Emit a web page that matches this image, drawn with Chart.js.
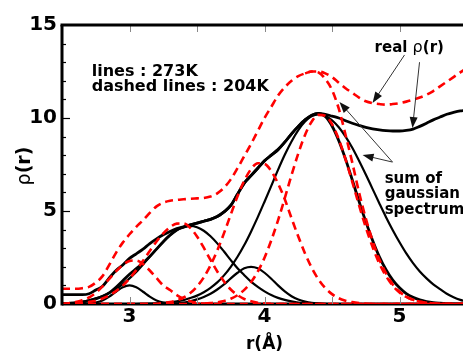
<!DOCTYPE html>
<html>
<head>
<meta charset="utf-8">
<script src="https://cdn.jsdelivr.net/npm/chart.js@4.4.1/dist/chart.umd.min.js"></script>
<style>
  html, body { margin: 0; padding: 0; background: #fff; }
</style>
</head>
<body>
<canvas id="rho" width="463" height="351"></canvas>
<script>
// r grid (Å), 2.50 .. 5.50 in 0.05 steps
const rGrid = [
  2.5, 2.55, 2.6, 2.65, 2.7, 2.75, 2.8, 2.85, 2.9, 2.95,
  3.0, 3.05, 3.1, 3.15, 3.2, 3.25, 3.3, 3.35, 3.4, 3.45,
  3.5, 3.55, 3.6, 3.65, 3.7, 3.75, 3.8, 3.85, 3.9, 3.95,
  4.0, 4.05, 4.1, 4.15, 4.2, 4.25, 4.3, 4.35, 4.4, 4.45,
  4.5, 4.55, 4.6, 4.65, 4.7, 4.75, 4.8, 4.85, 4.9, 4.95,
  5.0, 5.05, 5.1, 5.15, 5.2, 5.25, 5.3, 5.35, 5.4, 5.45,
  5.5
];

// 273K (solid black)
const real273 = [
  0.5, 0.5, 0.5, 0.5, 0.55, 0.75, 0.95, 1.4, 1.8, 2.1,
  2.45, 2.7, 2.95, 3.25, 3.5, 3.72, 3.9, 4.05, 4.15, 4.25,
  4.35, 4.45, 4.55, 4.7, 4.95, 5.3, 5.9, 6.5, 6.9, 7.3,
  7.7, 8.0, 8.3, 8.7, 9.15, 9.55, 9.9, 10.15, 10.25, 10.2,
  10.1, 10.0, 9.85, 9.72, 9.6, 9.5, 9.42, 9.36, 9.32, 9.3,
  9.3, 9.33, 9.4, 9.55, 9.72, 9.9, 10.05, 10.2, 10.3, 10.38,
  10.42
];
const sum273 = [
  0, 0.03, 0.06, 0.1, 0.18, 0.28, 0.4, 0.6, 0.9, 1.25,
  1.6, 1.9, 2.2, 2.55, 2.95, 3.35, 3.7, 3.98, 4.13, 4.25,
  4.35, 4.45, 4.55, 4.7, 4.95, 5.3, 5.9, 6.5, 6.9, 7.3,
  7.7, 8.0, 8.3, 8.7, 9.15, 9.55, 9.9, 10.15, 10.25, 10.08,
  9.57, 8.78, 7.79, 6.67, 5.52, 4.43, 3.43, 2.55, 1.84, 1.28,
  0.87, 0.56, 0.36, 0.22, 0.13, 0.07, 0.04, 0.02, 0.01, 0,
  0
];
const g273A = [
  0, 0, 0, 0.01, 0.02, 0.08, 0.19, 0.4, 0.66, 0.9,
  1.0, 0.9, 0.66, 0.4, 0.19, 0.08, 0.02, 0.01, 0, 0,
  0, 0, 0, 0, 0, 0, 0, 0, 0, 0,
  0, 0, 0, 0, 0, 0, 0, 0, 0, 0,
  0, 0, 0, 0, 0, 0, 0, 0, 0, 0,
  0, 0, 0, 0, 0, 0, 0, 0, 0, 0,
  0
];
const g273B = [
  0.03, 0.05, 0.08, 0.13, 0.2, 0.3, 0.43, 0.6, 0.8, 1.07,
  1.38, 1.72, 2.12, 2.55, 2.95, 3.35, 3.7, 3.97, 4.14, 4.2,
  4.13, 3.94, 3.64, 3.26, 2.82, 2.36, 1.92, 1.55, 1.2, 0.92,
  0.68, 0.48, 0.33, 0.22, 0.14, 0.08, 0.05, 0.03, 0.01, 0,
  0, 0, 0, 0, 0, 0, 0, 0, 0, 0,
  0, 0, 0, 0, 0, 0, 0, 0, 0, 0,
  0
];
const g273C = [
  0, 0, 0, 0, 0, 0, 0, 0, 0, 0,
  0, 0, 0, 0, 0, 0, 0, 0.04, 0.08, 0.15,
  0.25, 0.38, 0.55, 0.78, 1.05, 1.38, 1.68, 1.92, 2.0, 1.92,
  1.68, 1.36, 1.0, 0.68, 0.42, 0.24, 0.13, 0.06, 0.03, 0.01,
  0, 0, 0, 0, 0, 0, 0, 0, 0, 0,
  0, 0, 0, 0, 0, 0, 0, 0, 0, 0,
  0
];
const g273D = [
  0, 0, 0, 0, 0, 0, 0, 0, 0, 0,
  0, 0, 0.01, 0.02, 0.04, 0.06, 0.09, 0.14, 0.21, 0.32,
  0.45, 0.63, 0.87, 1.16, 1.54, 2.0, 2.54, 3.17, 3.89, 4.67,
  5.5, 6.35, 7.21, 8.02, 8.74, 9.35, 9.81, 10.1, 10.2, 10.12,
  9.88, 9.5, 9.0, 8.4, 7.7, 6.96, 6.19, 5.42, 4.67, 3.97,
  3.32, 2.72, 2.2, 1.75, 1.38, 1.06, 0.8, 0.55, 0.36, 0.22,
  0.13
];

// 204K (dashed red)
const real204 = [
  0.82, 0.82, 0.82, 0.85, 0.92, 1.15, 1.5, 2.1, 2.75, 3.3,
  3.75, 4.15, 4.5, 4.9, 5.25, 5.45, 5.55, 5.6, 5.63, 5.66,
  5.68, 5.7, 5.78, 5.95, 6.25, 6.7, 7.3, 7.95, 8.6, 9.3,
  10.0, 10.6, 11.2, 11.65, 12.0, 12.25, 12.4, 12.5, 12.5, 12.4,
  12.2, 11.9, 11.6, 11.35, 11.1, 10.9, 10.8, 10.75, 10.72, 10.75,
  10.8, 10.88, 10.98, 11.1, 11.25, 11.45, 11.7, 11.95, 12.2, 12.45,
  12.7
];
// below 4.3 the fitted sum runs on top of the measured curve
const sum204 = [
  null, null, null, null, null, null, null, null, null, null,
  null, null, null, null, null, null, null, null, null, null,
  null, null, null, null, null, null, null, null, null, null,
  null, null, null, null, null, null, 12.4, 12.5, 12.45, 12.1,
  11.5, 10.5, 9.1, 7.6, 6.0, 4.6, 3.4, 2.4, 1.65, 1.05,
  0.66, 0.4, 0.23, 0.12, 0.07, 0.03, 0.01, 0, 0, 0,
  0
];
const g204A = [
  0, 0.04, 0.1, 0.2, 0.35, 0.6, 0.95, 1.35, 1.75, 2.1,
  2.31, 2.34, 2.15, 1.8, 1.4, 1.0, 0.75, 0.48, 0.28, 0.15,
  0.07, 0.02, 0, 0, 0, 0, 0, 0, 0, 0,
  0, 0, 0, 0, 0, 0, 0, 0, 0, 0,
  0, 0, 0, 0, 0, 0, 0, 0, 0, 0,
  0, 0, 0, 0, 0, 0, 0, 0, 0, 0,
  0
];
const g204B = [
  0, 0.01, 0.03, 0.06, 0.11, 0.18, 0.3, 0.46, 0.69, 0.99,
  1.37, 1.82, 2.32, 2.85, 3.36, 3.8, 4.13, 4.32, 4.33, 4.09,
  3.63, 3.03, 2.37, 1.75, 1.21, 0.78, 0.48, 0.27, 0.15, 0.07,
  0.03, 0.01, 0, 0, 0, 0, 0, 0, 0, 0,
  0, 0, 0, 0, 0, 0, 0, 0, 0, 0,
  0, 0, 0, 0, 0, 0, 0, 0, 0, 0,
  0
];
const g204C = [
  0, 0, 0, 0, 0, 0, 0, 0, 0, 0,
  0, 0, 0, 0, 0, 0.06, 0.1, 0.2, 0.35, 0.59,
  0.94, 1.43, 2.08, 2.88, 3.81, 4.81, 5.79, 6.63, 7.25, 7.57,
  7.53, 7.15, 6.48, 5.63, 4.61, 3.63, 2.72, 1.94, 1.32, 0.86,
  0.53, 0.31, 0.18, 0.1, 0.05, 0.02, 0, 0, 0, 0,
  0, 0, 0, 0, 0, 0, 0, 0, 0, 0,
  0
];
const g204D = [
  0, 0, 0, 0, 0, 0, 0, 0, 0, 0,
  0, 0, 0, 0, 0, 0, 0, 0, 0, 0,
  0, 0.02, 0.05, 0.09, 0.16, 0.28, 0.47, 0.76, 1.17, 1.74,
  2.49, 3.42, 4.5, 5.69, 6.93, 8.09, 9.09, 9.81, 10.17, 10.12,
  9.67, 8.86, 7.78, 6.57, 5.31, 4.12, 3.07, 2.18, 1.5, 0.98,
  0.62, 0.38, 0.22, 0.12, 0.07, 0.03, 0.01, 0, 0, 0,
  0
];

// axis ticks
const xTickMarks = [3, 3.5, 4, 4.5, 5];
const yTickMarks = [1, 2, 3, 4, 5, 6, 7, 8, 9, 10, 11, 12, 13, 14];

const FONT = '"DejaVu Sans", "Liberation Sans", Arial, sans-serif';

const pts = ys => rGrid.map((r, i) => ({ x: r, y: ys[i] }));

const solid = (data, width) => ({
  data: pts(data), borderColor: '#000', borderWidth: width,
  pointRadius: 0, cubicInterpolationMode: 'monotone', order: 1
});
const dashed = data => ({
  data: pts(data), borderColor: '#ff0000', borderWidth: 2.6, borderDash: [8, 5],
  pointRadius: 0, cubicInterpolationMode: 'monotone', order: 0, spanGaps: false
});

function seg(ctx, x1, y1, x2, y2) {
  ctx.beginPath();
  ctx.moveTo(x1, y1);
  ctx.lineTo(x2, y2);
  ctx.stroke();
}

function arrow(ctx, x1, y1, x2, y2) {
  const ang = Math.atan2(y2 - y1, x2 - x1);
  const len = 11, half = 4;
  seg(ctx, x1, y1, x2 - Math.cos(ang) * len * 0.8, y2 - Math.sin(ang) * len * 0.8);
  ctx.beginPath();
  ctx.moveTo(x2, y2);
  ctx.lineTo(x2 - Math.cos(ang) * len - Math.sin(ang) * half, y2 - Math.sin(ang) * len + Math.cos(ang) * half);
  ctx.lineTo(x2 - Math.cos(ang) * len + Math.sin(ang) * half, y2 - Math.sin(ang) * len - Math.cos(ang) * half);
  ctx.closePath();
  ctx.fill();
}

// text made of pieces with different fonts (rho is set upright, not bold)
function runs(ctx, x, y, parts) {
  parts.forEach(([txt, font]) => {
    ctx.font = font;
    ctx.fillText(txt, x, y);
    x += ctx.measureText(txt).width;
  });
}
function runsWidth(ctx, parts) {
  return parts.reduce((w, [txt, font]) => { ctx.font = font; return w + ctx.measureText(txt).width; }, 0);
}

const baseline = {
  id: 'baseline',
  beforeDatasetsDraw(chart) {
    const { ctx, chartArea: a } = chart;
    ctx.save();
    ctx.strokeStyle = '#000';
    ctx.lineWidth = 3;
    seg(ctx, a.left, a.bottom, a.right, a.bottom);
    ctx.restore();
  }
};

const frame = {
  id: 'frame',
  afterDatasetsDraw(chart) {
    const { ctx, chartArea: a, scales: { x, y } } = chart;
    ctx.save();

    // inward tick marks
    ctx.lineWidth = 1;
    ctx.strokeStyle = '#888';
    xTickMarks.forEach(v => {
      const px = Math.round(x.getPixelForValue(v)) + 0.5;
      seg(ctx, px, a.top, px, a.top + 7);
      seg(ctx, px, a.bottom, px, a.bottom - 7);
    });
    ctx.strokeStyle = '#000';
    ctx.lineWidth = 1.2;
    yTickMarks.forEach(v => {
      const py = Math.round(y.getPixelForValue(v)) + 0.5;
      seg(ctx, a.left, py, a.left + (v % 5 === 0 ? 8 : 4), py);
    });

    // frame
    ctx.lineWidth = 3;
    ctx.strokeStyle = '#000';
    seg(ctx, a.left, a.top, a.left, a.bottom + 1.5);
    seg(ctx, a.left - 1.5, a.top, a.right, a.top);

    // notes
    ctx.fillStyle = '#000';
    ctx.textBaseline = 'alphabetic';
    ctx.textAlign = 'left';
    const B16 = 'bold 16px ' + FONT;
    const B15 = 'bold 15px ' + FONT;
    ctx.font = B16;
    ctx.fillText('lines : 273K', x.getPixelForValue(2.72), y.getPixelForValue(12.26));
    ctx.fillText('dashed lines : 204K', x.getPixelForValue(2.72), y.getPixelForValue(11.45));
    runs(ctx, x.getPixelForValue(4.815), y.getPixelForValue(13.55),
      [['real ', B15], ['\u03c1', '16px ' + FONT], ['(r)', B15]]);
    ctx.font = B15;
    ctx.fillText('sum of', x.getPixelForValue(4.89), y.getPixelForValue(6.5));
    ctx.fillText('gaussian', x.getPixelForValue(4.89), y.getPixelForValue(5.7));
    ctx.fillText('spectrum', x.getPixelForValue(4.89), y.getPixelForValue(4.84));

    // pointers
    ctx.strokeStyle = '#333';
    ctx.fillStyle = '#111';
    ctx.lineWidth = 1;
    const P = (r, v) => [x.getPixelForValue(r), y.getPixelForValue(v)];
    arrow(ctx, ...P(5.037, 13.39), ...P(4.8, 10.81));
    arrow(ctx, ...P(5.148, 13.0), ...P(5.096, 9.46));
    arrow(ctx, ...P(4.948, 7.63), ...P(4.555, 10.86));
    arrow(ctx, ...P(4.948, 7.63), ...P(4.726, 8.01));

    // axis titles
    ctx.fillStyle = '#000';
    ctx.textAlign = 'center';
    ctx.font = 'bold 17px ' + FONT;
    ctx.fillText('r(\u00c5)', x.getPixelForValue(4), 349);

    const yTitle = [['\u03c1', '19px ' + FONT], ['(r)', 'bold 19px ' + FONT]];
    ctx.textAlign = 'left';
    ctx.translate(30, 166);
    ctx.rotate(-Math.PI / 2);
    runs(ctx, -runsWidth(ctx, yTitle) / 2, 0, yTitle);
    ctx.restore();
  }
};

new Chart(document.getElementById('rho'), {
  type: 'line',
  data: {
    datasets: [
      solid(real273, 2.8), solid(sum273, 2.8),
      solid(g273A, 2.2), solid(g273B, 2.2), solid(g273C, 2.2), solid(g273D, 2.2),
      dashed(real204), dashed(sum204),
      dashed(g204A), dashed(g204B), dashed(g204C), dashed(g204D)
    ]
  },
  options: {
    responsive: false,
    devicePixelRatio: 1,
    animation: false,
    layout: { padding: { top: 25, right: 0, bottom: 0, left: 0 } },
    plugins: { legend: { display: false }, tooltip: { enabled: false } },
    scales: {
      x: {
        type: 'linear', min: 2.5, max: 5.47,
        afterFit: s => { s.height = 47; },
        grid: { display: false, drawTicks: false },
        border: { display: false },
        ticks: {
          stepSize: 1, includeBounds: false, padding: 1, color: '#000',
          font: { family: FONT, weight: 'bold', size: 20 }
        }
      },
      y: {
        min: 0, max: 15,
        afterFit: s => { s.width = 62; },
        grid: { display: false, drawTicks: false },
        border: { display: false },
        ticks: {
          stepSize: 5, padding: 5, color: '#000',
          font: { family: FONT, weight: 'bold', size: 20 }
        }
      }
    }
  },
  plugins: [baseline, frame]
});
</script>
</body>
</html>
